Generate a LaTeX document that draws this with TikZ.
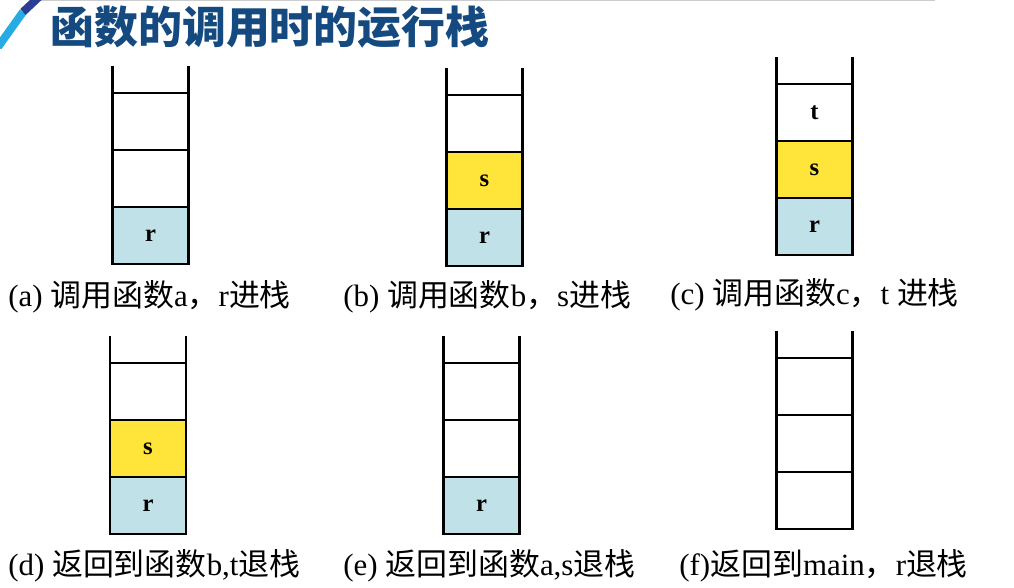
\documentclass[tikz,border=0pt]{standalone}
\usepackage{fontspec}
\setmainfont{Liberation Serif}
\newfontfamily\cjk{Noto Sans CJK SC}
\newcommand\zh[1]{{\cjk #1}}

\definecolor{titleblue}{RGB}{20,74,128}
\definecolor{slashcyan}{RGB}{38,172,226}
\definecolor{slashblue}{RGB}{42,62,150}
\definecolor{cellblue}{RGB}{192,225,232}
\definecolor{cellyellow}{RGB}{255,228,58}
\colorlet{lvl1}{cellblue}
\colorlet{lvl2}{cellyellow}
\colorlet{lvl3}{white}

\tikzset{
  cell/.style={draw, line width=1.3pt, outer sep=0pt, inner sep=0pt,
    minimum width=1.52cm, minimum height=1.14cm, anchor=south,
    font=\fontsize{14}{16}\selectfont\bfseries},
  side/.style={line width=1.3pt},
  caption/.style={anchor=west, inner sep=0pt, font=\fontsize{17.6}{20}\selectfont}
}

\begin{document}
\begin{tikzpicture}[x=0.02cm, y=0.02cm]
    \useasboundingbox (0,0) rectangle (1014,588);

    % title bar
    \draw[gray!40, line width=0.6pt] (40,587.5) -- (935,587.5);
    \begin{scope}
        \clip (0,0) rectangle (1014,588);
        \draw[slashcyan, line width=0.16cm] (-2,541) -- (23,576);
        \draw[slashblue, line width=0.16cm] (23,576) -- (40,592);
    \end{scope}
    \node[anchor=west, inner sep=0pt, text=titleblue,
          font=\cjk\bfseries\fontsize{25}{28}\selectfont] (title) at (50,561) {函数的调用时的运行栈};

    % stacks: name / x / y of bottom / number of filled cells
    \foreach \n/\x/\y/\k in {a/150.5/324/1, b/484.5/322/2, c/814.5/333/3,
                             d/148/54/2, e/481.5/54/1, f/814.5/59/0} {
        \foreach \i in {1,2,3} {
            \ifnum\i>\k\relax
                \def\cfill{white}\def\ctext{}
            \else
                \def\cfill{lvl\i}\edef\ctext{\ifcase\i\or r\or s\or t\fi}
            \fi
            \node[cell, fill=\cfill] (\n\i) at ({\x},{\y+(\i-1)*57}) {\ctext};
        }
        % open top of the stack
        \draw[side] (\n3.north west) -- ++(0,27);
        \draw[side] (\n3.north east) -- ++(0,27);
    }

    % captions
    \node[caption] (cap-a) at (8,291)   {(a) \zh{调用函数}a\zh{，}r\zh{进栈}};
    \node[caption] (cap-b) at (343,291) {(b) \zh{调用函数}b\zh{，}s\zh{进栈}};
    \node[caption] (cap-c) at (670,293) {(c) \zh{调用函数}c\zh{，}t \zh{进栈}};
    \node[caption] (cap-d) at (8,22)    {(d) \zh{返回到函数}b,t\zh{退栈}};
    \node[caption] (cap-e) at (343,22)  {(e) \zh{返回到函数}a,s\zh{退栈}};
    \node[caption] (cap-f) at (679,22)  {(f)\zh{返回到}main\zh{，}r\zh{退栈}};
\end{tikzpicture}
\end{document}
